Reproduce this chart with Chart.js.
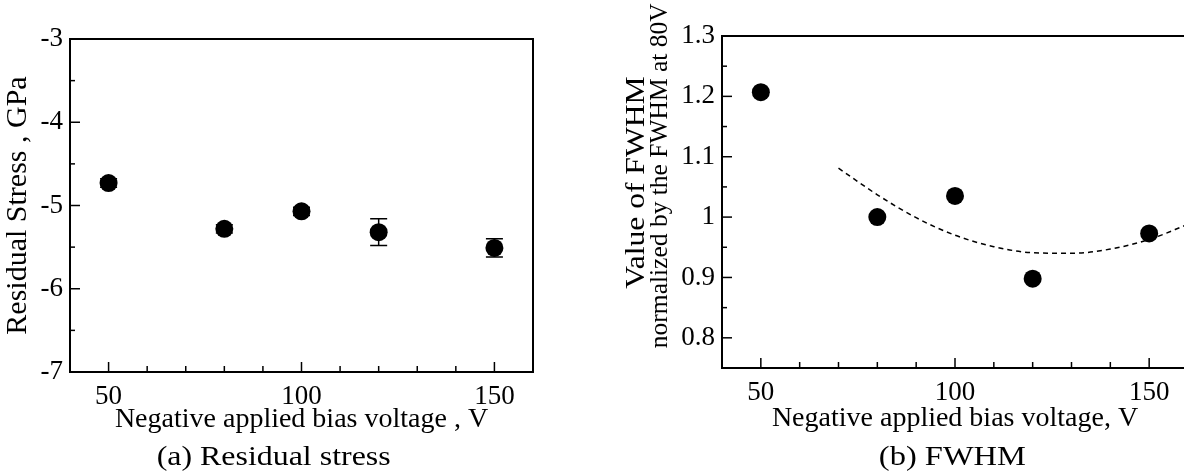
<!DOCTYPE html>
<html>
<head>
<meta charset="utf-8">
<script src="https://cdn.jsdelivr.net/npm/chart.js@4.4.1/dist/chart.umd.min.js"></script>
<style>
  html, body { margin: 0; padding: 0; background: #fff; }
  body { width: 1184px; height: 472px; overflow: hidden; position: relative; font-family: 'Liberation Serif', 'Times New Roman', serif; color: #000; }
  .wrap { position: absolute; top: 0; }
  #w1 { left: 0; width: 560px; height: 472px; }
  #w2 { left: 600px; width: 600px; height: 472px; }
  .txt { position: absolute; white-space: nowrap; line-height: 1; color: #000; }
  .rot { transform-origin: 50% 50%; }
</style>
</head>
<body>
<div class="wrap" id="w1"><canvas id="c1" width="560" height="472"></canvas></div>
<div class="wrap" id="w2"><canvas id="c2" width="600" height="472"></canvas></div>
<div class="txt" id="capA" style="font-size:28px;">(a) Residual stress</div>
<div class="txt" id="capB" style="font-size:28px;">(b) FWHM</div>
<div class="txt rot" id="yt1" style="font-size:27px;">Value of FWHM</div>
<div class="txt rot" id="yt2" style="font-size:25.5px;">normalized by the FWHM at 80V</div>
<script>
// ---------- data ----------
const voltages = [50, 80, 100, 120, 150];
const stressValues = [-4.73, -5.28, -5.07, -5.32, -5.51];
const stressErrors = [0.05, 0.05, 0.05, 0.16, 0.11];
const fwhmValues = [1.207, 1.0, 1.035, 0.898, 0.973];
const fitVoltages = [70, 80, 90, 100, 110, 120, 130, 140, 150, 160];
const fitValues = [1.081, 1.037, 0.999, 0.970, 0.951, 0.941, 0.940, 0.947, 0.963, 0.988];
const xMajorLabels = [50, 100, 150];
const stressTickLabels = [-7, -6, -5, -4, -3];
const fwhmTickLabels = [0.8, 0.9, 1, 1.1, 1.2, 1.3];

const FONT = "'Liberation Serif', 'Times New Roman', serif";

// ---------- helpers ----------
function isLabeled(v, list) {
  return list.some(l => Math.abs(l - v) < 1e-6);
}

const frameTicks = {
  id: 'frameTicks',
  beforeDatasetsDraw(chart) {
    const errs = chart.options.plugins.frameTicks.errors;
    if (!errs) return;
    const { ctx, scales: { x, y } } = chart;
    const ds = chart.data.datasets[0];
    ctx.save();
    ctx.strokeStyle = '#000';
    ctx.lineWidth = 1.5;
    ds.data.forEach((p, i) => {
      const e = errs[i];
      const px = x.getPixelForValue(p.x);
      const yt = y.getPixelForValue(p.y + e);
      const yb = y.getPixelForValue(p.y - e);
      ctx.beginPath();
      ctx.moveTo(px, yt); ctx.lineTo(px, yb);
      ctx.moveTo(px - 8.5, yt); ctx.lineTo(px + 8.5, yt);
      ctx.moveTo(px - 8.5, yb); ctx.lineTo(px + 8.5, yb);
      ctx.stroke();
    });
    ctx.restore();
  },
  afterDraw(chart) {
    const o = chart.options.plugins.frameTicks;
    const { ctx, chartArea: a, scales: { x, y } } = chart;
    ctx.save();
    ctx.strokeStyle = '#000';
    ctx.lineWidth = 2;
    ctx.beginPath();
    ctx.moveTo(a.left, a.top); ctx.lineTo(a.right, a.top);
    ctx.lineTo(a.right, a.bottom); ctx.lineTo(a.left, a.bottom);
    ctx.closePath();
    ctx.stroke();
    ctx.lineWidth = 1.5;
    x.ticks.forEach(t => {
      const px = x.getPixelForValue(t.value);
      const len = isLabeled(t.value, o.xMajor) ? 10 : 6;
      ctx.beginPath(); ctx.moveTo(px, a.bottom); ctx.lineTo(px, a.bottom - len); ctx.stroke();
    });
    y.ticks.forEach(t => {
      const py = y.getPixelForValue(t.value);
      const len = isLabeled(t.value, o.yMajor) ? 10 : 5;
      ctx.beginPath(); ctx.moveTo(a.left, py); ctx.lineTo(a.left + len, py); ctx.stroke();
    });
    ctx.restore();
  }
};

function makeOptions(cfg) {
  return {
    responsive: false,
    animation: false,
    events: [],
    layout: { padding: { top: cfg.padTop, right: cfg.padRight, left: 0, bottom: 0 } },
    plugins: {
      legend: { display: false },
      tooltip: { enabled: false },
      frameTicks: { xMajor: xMajorLabels, yMajor: cfg.yLabels, errors: cfg.errors }
    },
    scales: {
      x: {
        type: 'linear', position: 'bottom', min: 40, max: 160,
        grid: { display: false, drawTicks: false },
        border: { display: false },
        ticks: {
          stepSize: 10, autoSkip: false, maxRotation: 0, padding: 9,
          color: '#000', font: { family: FONT, size: 27 },
          callback: v => isLabeled(v, xMajorLabels) ? String(v) : ''
        },
        title: {
          display: true, text: cfg.xTitle, color: '#000',
          font: { family: FONT, size: 28, lineHeight: 1 },
          padding: { top: 0, bottom: cfg.xTitlePad }
        },
        afterFit(s) { s.height = cfg.xHeight; }
      },
      y: {
        type: 'linear', position: 'left', min: cfg.yMin, max: cfg.yMax,
        grid: { display: false, drawTicks: false },
        border: { display: false },
        ticks: {
          stepSize: cfg.yStep, autoSkip: false, padding: 7,
          color: '#000', font: { family: FONT, size: 27 },
          callback: v => isLabeled(v, cfg.yLabels) ? String(Number(v.toFixed(2))) : ''
        },
        title: cfg.yTitle ? {
          display: true, text: cfg.yTitle, color: '#000',
          font: { family: FONT, size: 30, lineHeight: 1 },
          padding: { top: cfg.yTitlePad, bottom: 0 }
        } : { display: false },
        afterFit(s) { s.width = cfg.yWidth; }
      }
    }
  };
}

// ---------- chart (a) ----------
new Chart(document.getElementById('c1'), {
  type: 'scatter',
  data: {
    datasets: [{
      data: voltages.map((v, i) => ({ x: v, y: stressValues[i] })),
      pointRadius: 9, pointBackgroundColor: '#000', pointBorderColor: '#000', pointBorderWidth: 0
    }]
  },
  options: makeOptions({
    padTop: 39, padRight: 27, xHeight: 100, yWidth: 70,
    yMin: -7, yMax: -3, yStep: 0.5, yLabels: stressTickLabels,
    xTitle: 'Negative applied bias voltage , V', xTitlePad: 38.5,
    yTitle: 'Residual Stress , GPa', yTitlePad: 3,
    errors: stressErrors
  }),
  plugins: [frameTicks]
});

// ---------- chart (b) ----------
new Chart(document.getElementById('c2'), {
  type: 'scatter',
  data: {
    datasets: [{
      data: voltages.map((v, i) => ({ x: v, y: fwhmValues[i] })),
      pointRadius: 9, pointBackgroundColor: '#000', pointBorderColor: '#000', pointBorderWidth: 0
    }, {
      type: 'line',
      data: fitVoltages.map((v, i) => ({ x: v, y: fitValues[i] })),
      borderColor: '#000', borderWidth: 1.5, borderDash: [5, 4],
      pointRadius: 0, tension: 0.4, cubicInterpolationMode: 'monotone', fill: false
    }]
  },
  options: makeOptions({
    padTop: 36, padRight: 12, xHeight: 104, yWidth: 122,
    yMin: 0.75, yMax: 1.3, yStep: 0.05, yLabels: fwhmTickLabels,
    xTitle: 'Negative applied bias voltage, V', xTitlePad: 39.5,
    yTitle: null, yTitlePad: 0,
    errors: null
  }),
  plugins: [frameTicks]
});

// ---------- HTML captions / rotated title ----------
// stretch = horizontal stretch along the text direction
function placeText(id, cx, cy, rotate, stretch, baselineMode) {
  const el = document.getElementById(id);
  const fs = parseFloat(el.style.fontSize);
  const w = el.offsetWidth, h = el.offsetHeight;
  const s = stretch || 1;
  if (!rotate) {
    el.style.left = (cx - w / 2) + 'px';
    el.style.top = (cy - 0.8375 * fs) + 'px';
    el.style.transformOrigin = '50% 50%';
    el.style.transform = 'scaleX(' + s + ')';
  } else {
    // cx = x of baseline, cy = vertical center
    const midX = cx - 0.3375 * fs;
    el.style.left = (midX - w / 2) + 'px';
    el.style.top = (cy - h / 2) + 'px';
    el.style.transform = 'rotate(-90deg) scaleX(' + s + ')';
  }
}
placeText('capA', 273.5, 465, false, 1.14);
placeText('capB', 952, 465, false, 1.16);
placeText('yt1', 645, 182, true, 1.17);
placeText('yt2', 667, 176, true, 1.0);
</script>
</body>
</html>
